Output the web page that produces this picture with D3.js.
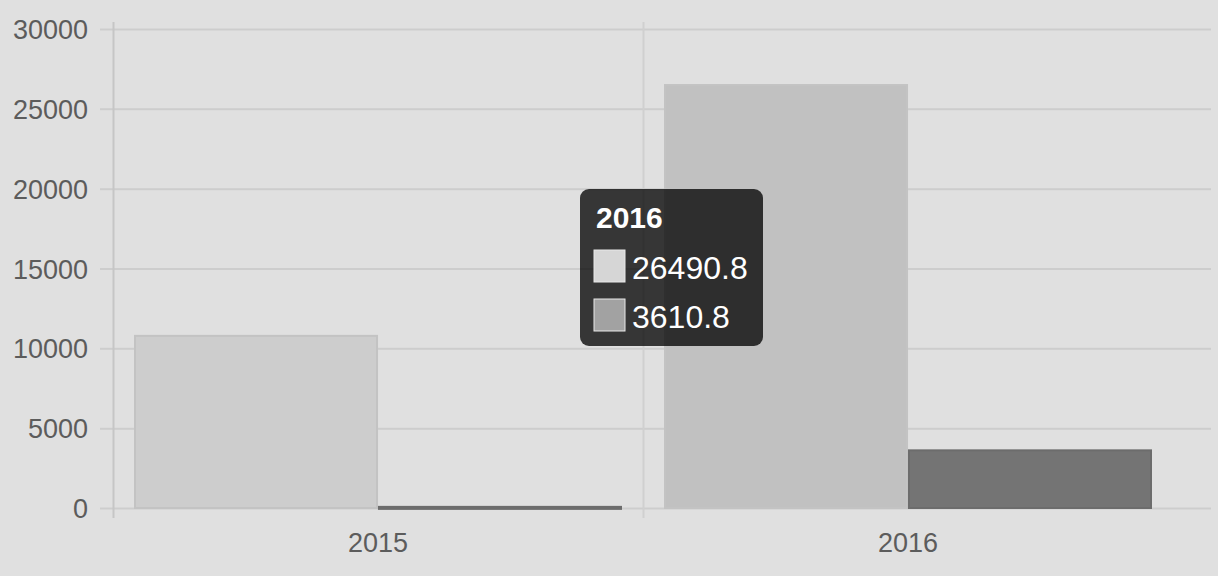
<!DOCTYPE html>
<html>
<head>
<meta charset="utf-8">
<script src="https://cdn.jsdelivr.net/npm/d3@7"></script>
<style>
  body { margin: 0; background: #e0e0e0; }
  svg { display: block; font-family: "Liberation Sans", Arial, sans-serif; }
</style>
</head>
<body>
<script>
// chart data
const categories = ["2015", "2016"];
const seriesA = [10780, 26490.8];
const seriesB = [70, 3610.8];
const yTicks = [0, 5000, 10000, 15000, 20000, 25000, 30000];
const hoverIndex = 1; // tooltip shown for 2016

const width = 1218, height = 576;
const plotLeft = 113, plotRight = 1173, gridRight = 1211;
const plotTop = 29, plotBottom = 508;

const svg = d3.select("body").append("svg")
    .attr("width", width)
    .attr("height", height);

svg.append("rect").attr("width", width).attr("height", height).attr("fill", "#e0e0e0");

const x = d3.scaleBand().domain(categories).range([plotLeft, plotRight]);
const inner = d3.scaleBand().domain(["a", "b"]).range([22, x.bandwidth() - 22])
    .paddingInner(0.008);
const y = d3.scaleLinear().domain([0, 30000]).range([plotBottom, plotTop]);

// horizontal grid + tick marks
svg.append("g")
    .selectAll("line")
    .data(yTicks)
    .enter().append("line")
    .attr("x1", plotLeft - 13)
    .attr("x2", gridRight)
    .attr("y1", d => y(d) + 0.5)
    .attr("y2", d => y(d) + 0.5)
    .attr("stroke", "#cdcdcd")
    .attr("stroke-width", 2);

// y tick labels
svg.append("g")
    .selectAll("text")
    .data(yTicks)
    .enter().append("text")
    .attr("x", 88)
    .attr("y", d => y(d) + 10)
    .attr("text-anchor", "end")
    .attr("font-size", 27)
    .attr("fill", "#5c5c5c")
    .text(d => d);

// vertical lines: axis and category boundary
const vLines = [plotLeft, x(categories[1])];
svg.append("g")
    .selectAll("line")
    .data(vLines)
    .enter().append("line")
    .attr("x1", d => d + 0.5)
    .attr("x2", d => d + 0.5)
    .attr("y1", plotTop - 7)
    .attr("y2", plotBottom + 10)
    .attr("stroke", (d, i) => i === 0 ? "#c6c6c6" : "#d0d0d0")
    .attr("stroke-width", 2);

// bars
const fillA = (d, i) => i === hoverIndex ? "#c1c1c1" : "#cdcdcd";
svg.append("g")
    .selectAll("rect")
    .data(seriesA)
    .enter().append("rect")
    .attr("x", (d, i) => x(categories[i]) + inner("a"))
    .attr("width", inner.bandwidth())
    .attr("y", d => y(d))
    .attr("height", d => y(0) - y(d))
    .attr("fill", fillA)
    .attr("stroke", "#c3c3c3")
    .attr("stroke-width", 2);

svg.append("g")
    .selectAll("rect")
    .data(seriesB)
    .enter().append("rect")
    .attr("x", (d, i) => x(categories[i]) + inner("b"))
    .attr("width", inner.bandwidth())
    .attr("y", d => y(d))
    .attr("height", d => Math.max(2, y(0) - y(d)))
    .attr("fill", "#747474")
    .attr("stroke", "#6c6c6c")
    .attr("stroke-width", 2);

// x labels
svg.append("g")
    .selectAll("text")
    .data(categories)
    .enter().append("text")
    .attr("x", d => x(d) + x.bandwidth() / 2)
    .attr("y", 552)
    .attr("text-anchor", "middle")
    .attr("font-size", 27)
    .attr("fill", "#5c5c5c")
    .text(d => d);

// tooltip
const tip = svg.append("g").attr("transform", "translate(580,189)");
tip.append("rect")
    .attr("width", 183)
    .attr("height", 157)
    .attr("rx", 9)
    .attr("fill", "rgba(0,0,0,0.76)");
tip.append("text")
    .attr("x", 16)
    .attr("y", 39)
    .attr("font-size", 30)
    .attr("font-weight", "bold")
    .attr("fill", "#fff")
    .text(categories[hoverIndex]);

const tipRows = [
    { value: seriesA[hoverIndex], color: "#d6d6d6" },
    { value: seriesB[hoverIndex], color: "#a2a2a2" }
];
const row = tip.selectAll(".row")
    .data(tipRows)
    .enter().append("g")
    .attr("class", "row")
    .attr("transform", (d, i) => `translate(0,${61 + i * 49})`);
row.append("rect")
    .attr("x", 14)
    .attr("y", 0)
    .attr("width", 31)
    .attr("height", 32)
    .attr("fill", d => d.color)
    .attr("stroke", "#e8e8e8")
    .attr("stroke-width", 1);
row.append("text")
    .attr("x", 52)
    .attr("y", 29)
    .attr("font-size", 32)
    .attr("fill", "#fff")
    .text(d => d.value);
</script>
</body>
</html>
